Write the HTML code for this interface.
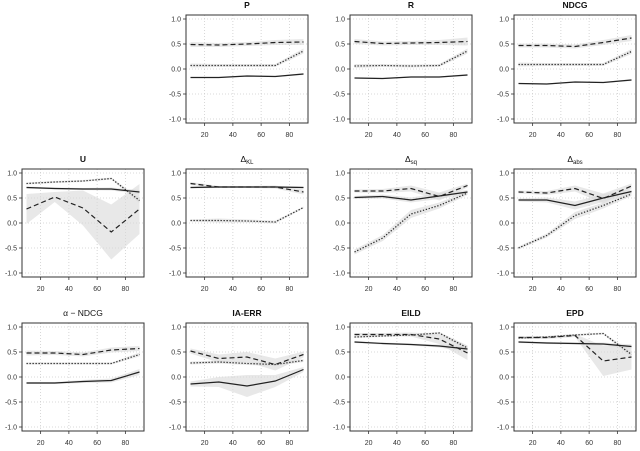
<!DOCTYPE html>
<html><head><meta charset="utf-8"><style>
body{margin:0;background:#fff}
svg{display:block;font-family:"Liberation Sans",sans-serif}
</style></head><body>
<svg id="chart" width="640" height="451" viewBox="0 0 640 451" xmlns="http://www.w3.org/2000/svg"></svg>
<script>
const xValues=[10,30,50,70,90];
const xTicks=[20,40,60,80];
const yTicks=[-1,-0.5,0,0.5,1];
const yTickLabels=["-1.0","-0.5","0.0","0.5","1.0"];
const panelNames=["P","R","NDCG","U","ΔKL","Δsq","Δabs","α-NDCG","IA-ERR","EILD","EPD"];
const solidP=[-0.17,-0.17,-0.14,-0.15,-0.1], dashedP=[0.49,0.48,0.50,0.53,0.54], dottedP=[0.07,0.07,0.07,0.07,0.36];
const solidR=[-0.18,-0.19,-0.16,-0.16,-0.12], dashedR=[0.55,0.51,0.52,0.53,0.55], dottedR=[0.06,0.07,0.06,0.07,0.36];
const solidN=[-0.29,-0.30,-0.26,-0.27,-0.22], dashedN=[0.47,0.47,0.45,0.53,0.62], dottedN=[0.09,0.09,0.09,0.09,0.35];
const solidU=[0.71,0.69,0.68,0.68,0.62], dashedU=[0.28,0.52,0.30,-0.18,0.28], dottedU=[0.79,0.82,0.84,0.89,0.45];
const solidKL=[0.71,0.72,0.72,0.72,0.71], dashedKL=[0.79,0.72,0.72,0.72,0.62], dottedKL=[0.05,0.05,0.04,0.02,0.31];
const solidSQ=[0.51,0.53,0.46,0.54,0.62], dashedSQ=[0.64,0.64,0.69,0.53,0.75], dottedSQ=[-0.58,-0.30,0.18,0.35,0.60];
const solidAB=[0.46,0.46,0.35,0.50,0.63], dashedAB=[0.62,0.60,0.69,0.49,0.74], dottedAB=[-0.50,-0.25,0.15,0.35,0.58];
const solidAN=[-0.12,-0.12,-0.09,-0.07,0.10], dashedAN=[0.48,0.48,0.45,0.54,0.57], dottedAN=[0.27,0.27,0.27,0.27,0.45];
const solidIA=[-0.14,-0.10,-0.18,-0.08,0.15], dashedIA=[0.52,0.37,0.40,0.25,0.45], dottedIA=[0.28,0.30,0.27,0.25,0.33];
const solidEI=[0.70,0.67,0.65,0.62,0.56], dashedEI=[0.85,0.85,0.85,0.76,0.48], dottedEI=[0.80,0.82,0.84,0.88,0.58];
const solidEP=[0.70,0.68,0.67,0.66,0.61], dashedEP=[0.79,0.79,0.83,0.32,0.40], dottedEP=[0.78,0.80,0.84,0.87,0.45];
const bandSolid=[[0.01,0.01,0.01,0.01,0.02],[0.01,0.01,0.01,0.01,0.02],[0.01,0.01,0.01,0.01,0.02],[0.02,0.02,0.02,0.03,0.04],[0.02,0.02,0.02,0.02,0.02],[0.03,0.04,0.05,0.06,0.04],[0.03,0.05,0.08,0.08,0.04],[0.02,0.02,0.03,0.04,0.06],[0.05,0.1,0.22,0.12,0.05],[0.02,0.02,0.02,0.03,0.06],[0.02,0.02,0.02,0.03,0.04]];
const bandDashed=[[0.05,0.04,0.04,0.05,0.06],[0.05,0.04,0.04,0.05,0.08],[0.04,0.04,0.04,0.05,0.06],[0.3,0.1,0.35,0.55,0.5],[0.03,0.02,0.02,0.03,0.05],[0.03,0.04,0.06,0.08,0.04],[0.03,0.04,0.06,0.1,0.05],[0.05,0.04,0.04,0.05,0.05],[0.05,0.08,0.1,0.12,0.06],[0.03,0.03,0.04,0.1,0.14],[0.03,0.03,0.03,0.3,0.25]];
const bandDotted=[[0.04,0.03,0.03,0.03,0.05],[0.04,0.03,0.03,0.03,0.05],[0.04,0.03,0.03,0.03,0.05],[0.02,0.02,0.02,0.02,0.05],[0.02,0.04,0.03,0.03,0.02],[0.05,0.06,0.08,0.06,0.04],[0.03,0.04,0.07,0.06,0.04],[0.02,0.02,0.02,0.02,0.04],[0.03,0.03,0.03,0.03,0.03],[0.02,0.02,0.02,0.02,0.05],[0.02,0.02,0.02,0.02,0.05]];
const seriesSolid=[solidP,solidR,solidN,solidU,solidKL,solidSQ,solidAB,solidAN,solidIA,solidEI,solidEP];
const seriesDashed=[dashedP,dashedR,dashedN,dashedU,dashedKL,dashedSQ,dashedAB,dashedAN,dashedIA,dashedEI,dashedEP];
const seriesDotted=[dottedP,dottedR,dottedN,dottedU,dottedKL,dottedSQ,dottedAB,dottedAN,dottedIA,dottedEI,dottedEP];

const NS="http://www.w3.org/2000/svg";
const svg=document.getElementById('chart');
const colLeft=[22,186,350,514], rowTop=[15,169,323];
const slots=[[0,1],[0,2],[0,3],[1,0],[1,1],[1,2],[1,3],[2,0],[2,1],[2,2],[2,3]];
const W=122,H=108;
function mk(tag,attrs,parent){const e=document.createElementNS(NS,tag);for(const k in attrs)e.setAttribute(k,attrs[k]);(parent||svg).appendChild(e);return e;}
function titleHTML(t,el){
  if(t[0]==='Δ'&&t.length>1){el.textContent='Δ';const ts=document.createElementNS(NS,'tspan');ts.setAttribute('font-size','6');ts.setAttribute('dy','2');ts.textContent=t.slice(1);el.appendChild(ts);}
  else el.textContent=t.replace('α-','α − ');
}
panelNames.forEach((name,i)=>{
  const [r,c]=slots[i];const L=colLeft[c],T=rowTop[r];
  const g=mk('g',{});
  
  
  const xs=v=>L+4.5+(v-10)*(W-9)/80;
  const ys=v=>T+4+(1-v)*50;
  // grid
  xTicks.forEach(t=>{const l=mk('line',{x1:xs(t),x2:xs(t),y1:T,y2:T+H,stroke:'#ccc','stroke-width':0.8,'stroke-dasharray':'1,2'},g);});
  yTicks.forEach(t=>{const l=mk('line',{x1:L,x2:L+W,y1:ys(t),y2:ys(t),stroke:'#ccc','stroke-width':0.8,'stroke-dasharray':'1,2'},g);});
  // bands
  [[seriesDashed[i],bandDashed[i]],[seriesDotted[i],bandDotted[i]],[seriesSolid[i],bandSolid[i]]].forEach(([s,b])=>{
    const up=xValues.map((x,k)=>xs(x)+','+ys(s[k]+b[k]));
    const dn=xValues.map((x,k)=>xs(x)+','+ys(s[k]-b[k])).reverse();
    const p=mk('polygon',{points:up.concat(dn).join(' '),fill:'#d9d9d9','fill-opacity':0.6},g);
    
    
  });
  [[seriesSolid[i],'none','solid-line'],[seriesDashed[i],'5,3','dashed-line'],[seriesDotted[i],'1.3,1.7','dotted-line']].forEach(([s,da,nm])=>{
    const p=mk('polyline',{points:xValues.map((x,k)=>xs(x)+','+ys(s[k])).join(' '),fill:'none',stroke:'#222','stroke-width':1.2,'stroke-dasharray':da},g);
    
    
  });
  const box=mk('rect',{x:L,y:T,width:W,height:H,fill:'none',stroke:'#333','stroke-width':1},g);
  
  
  yTicks.forEach((t,k)=>{
    mk('line',{x1:L-3,x2:L,y1:ys(t),y2:ys(t),stroke:'#333','stroke-width':0.8},g);
    const tx=mk('text',{x:L-5,y:ys(t)+2.5,'font-size':7,'text-anchor':'end',fill:'#333'},g);
    tx.textContent=yTickLabels[k];
    
    
  });
  xTicks.forEach(t=>{
    mk('line',{x1:xs(t),x2:xs(t),y1:T+H,y2:T+H+3,stroke:'#333','stroke-width':0.8},g);
    const tx=mk('text',{x:xs(t),y:T+H+14,'font-size':7,'text-anchor':'middle',fill:'#333'},g);
    tx.textContent=t;
    
    
  });
  const tt=mk('text',{x:L+W/2,y:T-7,'font-size':8.5,'font-weight':name[0]==='α'||name[0]==='Δ'?'normal':'bold','text-anchor':'middle',fill:'#111'},g);
  titleHTML(name,tt);
  
  
});
</script>
</body></html>
